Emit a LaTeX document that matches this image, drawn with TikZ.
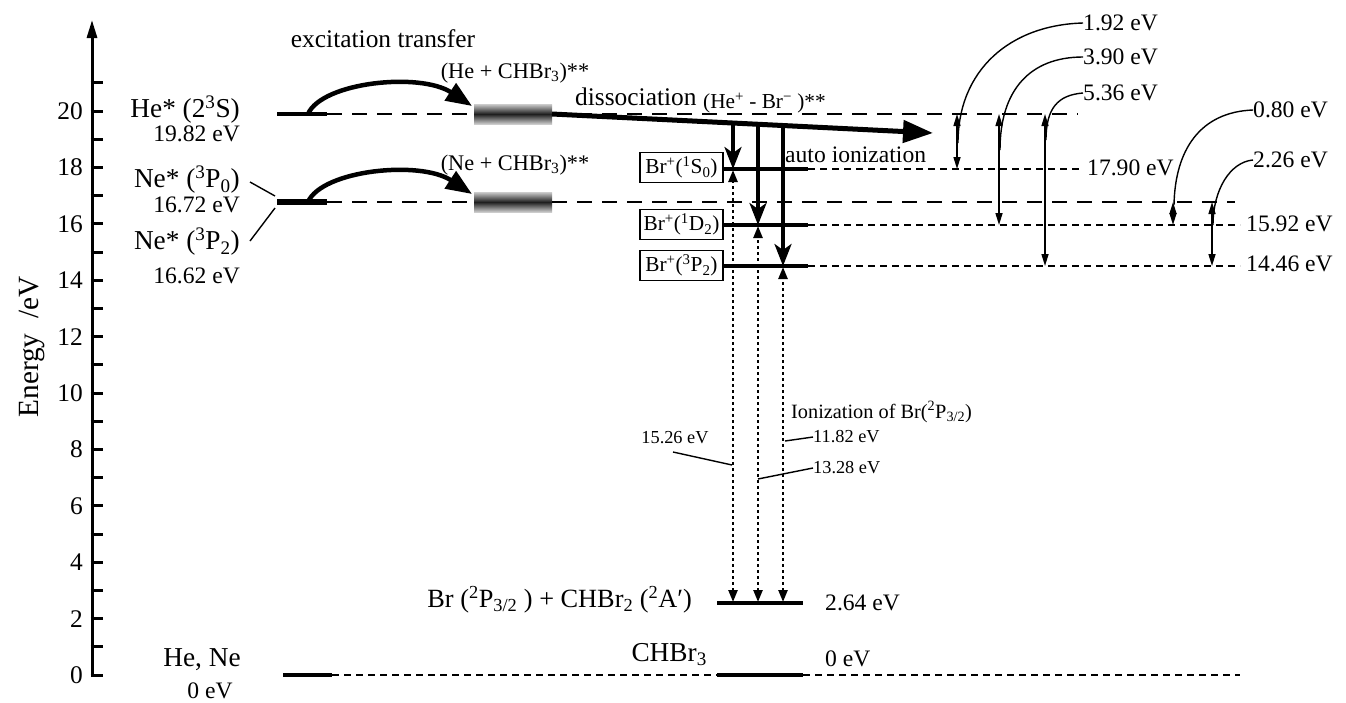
\documentclass[tikz,border=0pt]{standalone}
\usepackage{fontspec}
\setmainfont{Liberation Serif}
\usetikzlibrary{arrows.meta}
\newcommand{\fs}[1]{\fontsize{#1}{#1}\selectfont}
\newcommand{\su}[1]{\textsuperscript{#1}}
\newcommand{\sbs}[1]{\textsubscript{#1}}
\begin{document}
\begin{tikzpicture}[x=1pt,y=-1pt,
  lvl/.style={line width=4pt},
  nelvl/.style={line width=6.5pt},
  longdash/.style={line width=1.6pt, dash pattern=on 15pt off 10pt},
  shortdash/.style={line width=1.5pt, dash pattern=on 7pt off 5pt},
  curvarrow/.style={line width=4.5pt, -{Triangle[length=26pt,width=20pt]}},
  bigarrow/.style={line width=5pt, -{Triangle[length=30pt,width=22pt]}},
  downarrow/.style={line width=3.5pt, -{Stealth[length=22pt,width=17pt,inset=6pt]}},
  dotarrow/.style={line width=2.4pt, dash pattern=on 3pt off 3pt, {Triangle[length=12pt,width=9pt]}-{Triangle[length=12pt,width=9pt]}},
  dbl/.style={line width=1.5pt, {Triangle[length=12pt,width=7pt]}-{Triangle[length=12pt,width=7pt]}},
  lead/.style={line width=1.4pt},
  lab/.style={inner sep=0pt},
  big/.style={lab, font=\fs{27.3}},
  mid/.style={lab, font=\fs{23.6}},
  med/.style={lab, font=\fs{22.3}},
  small/.style={lab, font=\fs{18.3}},
  brbox/.style={draw, line width=1.5pt, inner sep=2pt, minimum width=83pt, minimum height=30pt, font=\fs{21.3}},
  shadebar/.style={top color=black!20, bottom color=black!20, middle color=black!88}
]
\useasboundingbox (0,0) rectangle (1346,702);

% ---------- axis ----------
\coordinate (ax0) at (92,677);
\coordinate (axtop) at (92,20);
\draw[line width=3pt, -{Triangle[length=18pt,width=10pt]}] (ax0) -- (axtop);
\foreach \e in {0,...,21} {
  \draw[line width=3pt] (90.5,{675-28.2*\e}) -- (103,{675-28.2*\e});
}
\foreach \e in {0,2,...,20} {
  \node[lab, font=\fs{25.4}, anchor=east] (t\e) at (83,{675-28.2*\e}) {\e};
}
\node[lab, font=\fs{29.3}, rotate=90] (elab) at (32,347) {Energy\enspace/eV};

% ---------- left species ----------
\node[big, anchor=east] (hes) at (240,110) {He* (2\su{3}S)};
\node[mid, anchor=east] (hee) at (240,134) {19.82 eV};
\node[big, anchor=east] (ne0) at (240,180) {Ne* (\su{3}P\sbs{0})};
\node[mid, anchor=east] (ne0e) at (240,205) {16.72 eV};
\node[big, anchor=east] (ne2) at (240,242) {Ne* (\su{3}P\sbs{2})};
\node[mid, anchor=east] (ne2e) at (240,276) {16.62 eV};

\coordinate (heL) at (277,114);
\coordinate (heR) at (327,114);
\coordinate (neL) at (277,202);
\coordinate (neR) at (327,202);
\draw[lvl] (heL) -- (heR);
\draw[nelvl] (neL) -- (neR);
\draw[lead] (250,182) -- (275,196);
\draw[lead] (250,241) -- (275,208);

% shaded complexes
\shade[shadebar] (474,104) rectangle (552,124);
\shade[shadebar] (474,192) rectangle (552,212);
\coordinate (hebarL) at (474,114);
\coordinate (hebarR) at (552,114);
\coordinate (nebarL) at (474,202);
\coordinate (nebarR) at (552,202);

% long dashed levels
\draw[longdash] (heR) -- (hebarL);
\draw[longdash] (hebarR) -- (1078,114);
\draw[longdash] (neR) -- (nebarL);
\draw[longdash] (nebarR) -- (1235,202);

% excitation transfer arrows
\draw[curvarrow] (308,114) .. controls (322,82) and (420,72) .. (472,106);
\draw[curvarrow] (308,202) .. controls (322,170) and (420,160) .. (472,194);
\node[lab, font=\fs{25.4}] (ext) at (383,39) {excitation transfer};
\node[med] (hecx) at (515,73) {(He + CHBr\sbs{3})**};
\node[med] (necx) at (515,165) {(Ne + CHBr\sbs{3})**};

% dissociation
\coordinate (distip) at (933,133);
\draw[bigarrow] (hebarR) -- (distip);
\node[lab, font=\fs{25.4}, anchor=west] (dis) at (575,97) {dissociation};
\node[lab, font=\fs{21.3}, anchor=west] (hebr) at (703,103) {(He\su{+} - Br\su{−} )**};
\node[mid, anchor=west] (auto) at (785,155) {auto ionization};

% Br+ levels
\foreach \n/\y/\r in {S/169/1080, D/225/1240, P/266/1240} {
  \coordinate (L\n) at (723,\y);
  \coordinate (M\n) at (808,\y);
  \coordinate (R\n) at (\r,\y);
  \draw[lvl] (L\n) -- (M\n);
  \draw[shortdash] (M\n) -- (R\n);
}
\node[brbox] (bS) at (681.5,167.5) {Br\su{+}(\su{1}S\sbs{0})};
\node[brbox] (bD) at (681.5,224.5) {Br\su{+}(\su{1}D\sbs{2})};
\node[brbox] (bP) at (681.5,265.5) {Br\su{+}(\su{3}P\sbs{2})};
\node[mid, anchor=west] (e179) at (1087,168) {17.90 eV};
\node[mid, anchor=west] (e159) at (1246,224) {15.92 eV};
\node[mid, anchor=west] (e144) at (1246,264) {14.46 eV};

% auto-ionization arrows
\draw[downarrow] (733,123) -- (733,169);
\draw[downarrow] (758,124.3) -- (758,225);
\draw[downarrow] (783,125.5) -- (783,266);

% lower levels
\coordinate (bL) at (717,603);
\coordinate (bR) at (803,603);
\draw[line width=4.5pt] (bL) -- (bR);
\node[lab, font=\fs{26.3}, anchor=east] (brch) at (692,600) {Br (\su{2}P\sbs{3/2} ) + CHBr\sbs{2} (\su{2}A′)};
\node[mid, anchor=west] (e264) at (825,603) {2.64 eV};

% ionization (dotted) arrows
\draw[dotarrow] (733,602) -- (733,170);
\draw[dotarrow] (758,602) -- (758,226);
\draw[dotarrow] (783,602) -- (783,267);
\node[lab, font=\fs{20.3}, anchor=west] (ion) at (791,412) {Ionization of Br(\su{2}P\sbs{3/2})};
\node[small] (i1526) at (675,438) {15.26 eV};
\node[small, anchor=west] (i1182) at (813,437) {11.82 eV};
\node[small, anchor=west] (i1328) at (813,468) {13.28 eV};
\draw[lead] (673,452) -- (732,465);
\draw[lead] (785,441) -- (i1182.west);
\draw[lead] (758,479) -- (i1328.west);

% ground levels
\coordinate (gL) at (283,675);
\coordinate (gLR) at (332,675);
\coordinate (gM) at (717,675);
\coordinate (gMR) at (803,675);
\coordinate (gR) at (1240,675);
\draw[line width=4.5pt] (gL) -- (gLR);
\draw[line width=4.5pt] (gM) -- (gMR);
\draw[shortdash] (gLR) -- (gM);
\draw[shortdash] (gMR) -- (gR);
\node[big] (hene) at (202,660) {He, Ne};
\node[mid] (hene0) at (210,691) {0 eV};
\node[big, anchor=east] (chbr) at (707,655) {CHBr\sbs{3}};
\node[mid, anchor=west] (e0) at (825,659) {0 eV};

% right-side energy differences
\node[mid, anchor=west] (d192) at (1083,23) {1.92 eV};
\node[mid, anchor=west] (d390) at (1083,57) {3.90 eV};
\node[mid, anchor=west] (d536) at (1083,93) {5.36 eV};
\node[mid, anchor=west] (d080) at (1253,110) {0.80 eV};
\node[mid, anchor=west] (d226) at (1253,160) {2.26 eV};
\draw[dbl] (957,114) -- (957,169);
\draw[dbl] (999,114) -- (999,225);
\draw[dbl] (1045,114) -- (1045,266);
\draw[dbl] (1173,202) -- (1173,225);
\draw[dbl] (1212,202) -- (1212,266);
\draw[lead] (d192.west) .. controls (1010,25) and (958,70) .. (958,143);
\draw[lead] (d390.west) .. controls (1030,57) and (1000,90) .. (1000,150);
\draw[lead] (d536.west) .. controls (1058,95) and (1046,108) .. (1046,140);
\draw[lead] (d080.west) .. controls (1200,112) and (1175,150) .. (1174,205);
\draw[lead] (d226.west) .. controls (1230,162) and (1213,190) .. (1213,225);
\end{tikzpicture}
\end{document}
